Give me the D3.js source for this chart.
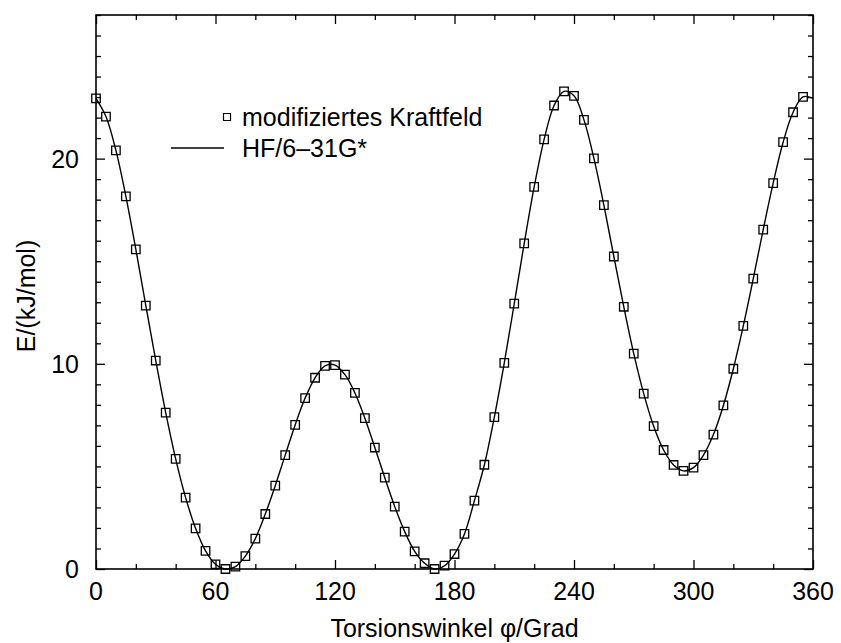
<!DOCTYPE html>
<html lang="de">
<head>
<meta charset="UTF-8">
<title>Torsionspotential</title>
<script src="https://cdn.jsdelivr.net/npm/d3@7"></script>
<style>
  body { margin: 0; background: #fff; }
  text { font-family: "Liberation Sans", Arial, sans-serif; fill: #000; }
</style>
</head>
<body>
<div id="chart"></div>
<script>
// Torsionswinkel (Grad), Messpunkte alle 5 Grad
var angles = [0,5,10,15,20,25,30,35,40,45,50,55,60,65,70,75,80,85,90,95,
  100,105,110,115,120,125,130,135,140,145,150,155,160,165,170,175,180,185,190,195,
  200,205,210,215,220,225,230,235,240,245,250,255,260,265,270,275,280,285,290,295,
  300,305,310,315,320,325,330,335,340,345,350,355];
// modifiziertes Kraftfeld, E in kJ/mol
var energies = [22.94,22.05,20.40,18.16,15.58,12.84,10.16,7.62,5.37,3.48,1.98,0.88,0.23,0.0,0.12,0.63,1.48,2.68,4.06,5.55,
  7.02,8.33,9.32,9.90,9.94,9.47,8.58,7.35,5.92,4.45,3.04,1.82,0.86,0.28,0.0,0.16,0.73,1.71,3.33,5.08,
  7.40,10.05,12.93,15.87,18.62,20.94,22.59,23.28,23.06,21.89,20.01,17.73,15.23,12.78,10.50,8.55,6.96,5.80,5.07,4.78,
  4.94,5.55,6.55,7.97,9.76,11.85,14.15,16.54,18.81,20.80,22.26,23.01];
// HF/6-31G* Kurve: gleiche Stuetzpunkte, periodisch geschlossen bei 360 Grad
var hfAngles = angles.concat([360]);
var hfEnergies = energies.concat([22.94]);

var xTicks = [0,60,120,180,240,300,360];
var yTicks = [0,10,20];
var legendLabels = ['modifiziertes Kraftfeld', 'HF/6\u201331G*'];

var width = 841, height = 643;
var pLeft = 96, pRight = 813, pTop = 15, pBottom = 569;

var svg = d3.select('#chart').append('svg')
  .attr('width', width).attr('height', height);

var x = d3.scaleLinear().domain([0, 360]).range([pLeft, pRight]);
var y = d3.scaleLinear().domain([0, 27]).range([pBottom, pTop]);

var minorX = d3.range(0, 361, 20).filter(function(v){ return v % 60 != 0; });
var minorY = d3.range(0, 28, 1).filter(function(v){ return v % 10 != 0; });

// ticks point inwards on all four sides
function ticks(axis, pos, vals, len) {
  var g = svg.append('g').attr('transform', pos);
  g.call(axis.tickValues(vals).tickSizeInner(-len).tickSizeOuter(0).tickFormat(''));
  g.select('.domain').remove();
  g.selectAll('line').attr('stroke', '#000').attr('stroke-width', 1.3);
}
ticks(d3.axisBottom(x), 'translate(0,' + pBottom + ')', minorX, 5);
ticks(d3.axisTop(x), 'translate(0,' + pTop + ')', minorX, 5);
ticks(d3.axisLeft(y), 'translate(' + pLeft + ',0)', minorY, 5);
ticks(d3.axisRight(y), 'translate(' + pRight + ',0)', minorY, 5);
ticks(d3.axisBottom(x), 'translate(0,' + pBottom + ')', xTicks, 9);
ticks(d3.axisTop(x), 'translate(0,' + pTop + ')', xTicks, 9);
ticks(d3.axisLeft(y), 'translate(' + pLeft + ',0)', yTicks, 9);
ticks(d3.axisRight(y), 'translate(' + pRight + ',0)', yTicks, 9);

svg.append('rect')
  .attr('x', pLeft).attr('y', pTop)
  .attr('width', pRight - pLeft).attr('height', pBottom - pTop)
  .attr('fill', 'none').attr('stroke', '#000').attr('stroke-width', 1.6);

// tick labels
svg.selectAll('.xlab').data(xTicks).enter().append('text')
  .attr('class', 'xlab')
  .attr('x', function(d){ return x(d); })
  .attr('y', pBottom + 31)
  .attr('text-anchor', 'middle')
  .style('font-size', '25px')
  .text(function(d){ return d; });

svg.selectAll('.ylab').data(yTicks).enter().append('text')
  .attr('class', 'ylab')
  .attr('x', pLeft - 17)
  .attr('y', function(d){ return y(d) + 9; })
  .attr('text-anchor', 'end')
  .style('font-size', '25px')
  .text(function(d){ return d; });

// axis titles
svg.append('text')
  .attr('x', (pLeft + pRight) / 2)
  .attr('y', 637)
  .attr('text-anchor', 'middle')
  .style('font-size', '25px')
  .text('Torsionswinkel \u03c6/Grad');

svg.append('text')
  .attr('transform', 'translate(35,296) rotate(-90)')
  .attr('text-anchor', 'middle')
  .style('font-size', '25px')
  .text('E/(kJ/mol)');

// HF curve
var line = d3.line()
  .x(function(d, i){ return x(hfAngles[i]); })
  .y(function(d){ return y(d); })
  .curve(d3.curveCatmullRom);

svg.append('path')
  .datum(hfEnergies)
  .attr('d', line)
  .attr('fill', 'none')
  .attr('stroke', '#000')
  .attr('stroke-width', 1.4);

// force field points
var sq = d3.symbol().type(d3.symbolSquare).size(72);
svg.selectAll('.pt').data(energies).enter().append('path')
  .attr('class', 'pt')
  .attr('d', sq)
  .attr('transform', function(d, i){ return 'translate(' + x(angles[i]) + ',' + y(d) + ')'; })
  .attr('fill', 'none')
  .attr('stroke', '#000')
  .attr('stroke-width', 1.3);

// legend
var lg = svg.append('g');
lg.append('path')
  .attr('d', d3.symbol().type(d3.symbolSquare).size(49))
  .attr('transform', 'translate(227,117)')
  .attr('fill', 'none').attr('stroke', '#000').attr('stroke-width', 1.2);
lg.append('line')
  .attr('x1', 171).attr('x2', 224).attr('y1', 148).attr('y2', 148)
  .attr('stroke', '#000').attr('stroke-width', 1.4);
lg.selectAll('text').data(legendLabels).enter().append('text')
  .attr('x', 242)
  .attr('y', function(d, i){ return 126 + i * 31; })
  .style('font-size', '25px')
  .text(function(d){ return d; });
</script>
</body>
</html>
